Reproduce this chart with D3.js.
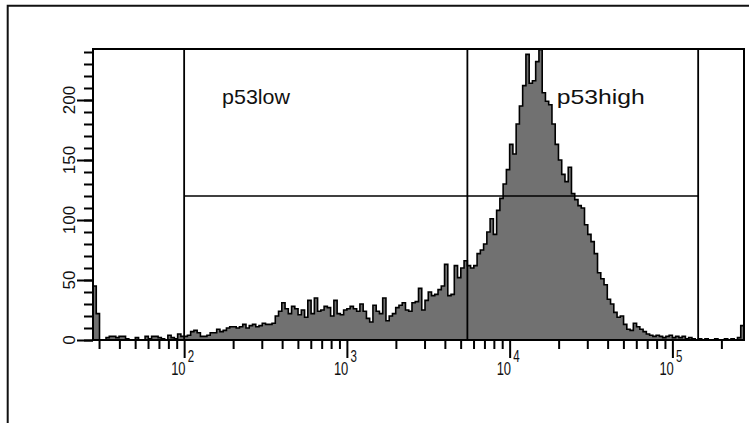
<!DOCTYPE html>
<html>
<head>
<meta charset="utf-8">
<script src="https://cdn.jsdelivr.net/npm/d3@7/dist/d3.min.js"></script>
<style>
  body { margin: 0; background: #fff; }
  svg { display: block; font-family: 'Liberation Sans', Arial, sans-serif; }
</style>
</head>
<body>
<svg id="chart" width="749" height="423"></svg>
<script>
// histogram channels: 200 bins of 0.02 decade, first bin starts at 10^1.44
const binLogStart = 1.44;
const binLogWidth = 0.02;
const counts = [
    45, 22, 0, 0, 2, 3, 3, 2, 3, 3,
    1, 0, 0, 2, 0, 0, 3, 1, 3, 3,
    2, 1, 0, 4, 2, 1, 5, 3, 3, 4,
    7, 8, 6, 3, 3, 4, 6, 6, 9, 7,
    8, 10, 11, 11, 10, 11, 13, 10, 12, 13,
    11, 12, 14, 13, 13, 14, 20, 24, 31, 26,
    22, 28, 26, 21, 25, 19, 33, 22, 35, 24,
    25, 28, 27, 20, 33, 22, 21, 25, 26, 28,
    26, 24, 30, 24, 18, 15, 29, 24, 22, 35,
    16, 20, 22, 27, 29, 31, 25, 24, 31, 32,
    43, 25, 33, 40, 37, 38, 42, 45, 63, 37,
    38, 62, 52, 60, 66, 62, 60, 62, 72, 75,
    80, 90, 101, 88, 108, 118, 130, 142, 163, 155,
    180, 195, 212, 238, 214, 216, 232, 242, 206, 199,
    196, 180, 163, 150, 138, 132, 144, 122, 117, 112,
    110, 96, 88, 82, 72, 56, 51, 46, 34, 30,
    23, 19, 20, 13, 9, 8, 14, 11, 9, 7,
    5, 4, 3, 4, 3, 2, 3, 4, 2, 3,
    2, 3, 1, 2, 1, 0, 1, 0, 1, 0,
    0, 1, 0, 0, 1, 0, 1, 0, 2, 12
];

const yMinorTicks = d3.range(0, 241, 10);
const yLabels = [0, 50, 100, 150, 200];
const xDecades = [100, 1000, 10000, 100000];
const xExponents = ['2', '3', '4', '5'];
const xMinorTicks = [30, 40, 50, 60, 70, 80, 90,
    200, 300, 400, 500, 600, 700, 800, 900,
    2000, 3000, 4000, 5000, 6000, 7000, 8000, 9000,
    20000, 30000, 40000, 50000, 60000, 70000, 80000, 90000,
    200000];

// gates
const gateX = [100, 5500, 144000];
const gateY = 120;
const gateNames = ['p53low', 'p53high'];
const gateLabelX = [171, 19500];
const gateLabelY = 197;

const plot = { left: 93, right: 744, top: 49, bottom: 340 };

const svg = d3.select('#chart');

const x = d3.scaleLog()
    .domain([Math.pow(10, binLogStart), Math.pow(10, binLogStart + counts.length * binLogWidth)])
    .range([plot.left, plot.right]);

const y = d3.scaleLinear()
    .domain([0, 242.5])
    .range([plot.bottom, plot.top]);

// outer frame (left and top only)
svg.append('path')
    .attr('d', 'M7.7,423V5.7H749')
    .attr('fill', 'none')
    .attr('stroke', '#111')
    .attr('stroke-width', 2);

// histogram
const bins = counts.map((c, i) => ({ v: Math.pow(10, binLogStart + i * binLogWidth), c: c }));
bins.push({ v: Math.pow(10, binLogStart + counts.length * binLogWidth), c: counts[counts.length - 1] });

svg.append('path')
    .datum(bins)
    .attr('d', d3.area()
        .curve(d3.curveStepAfter)
        .x(d => x(d.v))
        .y0(y(0))
        .y1(d => y(d.c)))
    .attr('fill', '#717171');

svg.append('path')
    .datum(bins)
    .attr('d', d3.line()
        .curve(d3.curveStepAfter)
        .x(d => x(d.v))
        .y(d => y(d.c)))
    .attr('fill', 'none')
    .attr('stroke', '#000')
    .attr('stroke-width', 1.6);

// gate lines
svg.append('g')
    .selectAll('line.gate')
    .data(gateX)
    .enter()
    .append('line')
        .attr('x1', d => x(d))
        .attr('x2', d => x(d))
        .attr('y1', plot.top)
        .attr('y2', plot.bottom)
        .attr('stroke', '#000')
        .attr('stroke-width', 1.8);

svg.append('line')
    .attr('x1', x(gateX[0]))
    .attr('x2', x(gateX[2]))
    .attr('y1', y(gateY))
    .attr('y2', y(gateY))
    .attr('stroke', '#000')
    .attr('stroke-width', 1.6);

const gateLabelWidth = [68, 88];
svg.append('g')
    .selectAll('text.gate')
    .data(gateNames)
    .enter()
    .append('text')
        .attr('x', (d, i) => x(gateLabelX[i]))
        .attr('y', y(gateLabelY))
        .attr('font-size', 21)
        .attr('textLength', (d, i) => gateLabelWidth[i])
        .attr('lengthAdjust', 'spacingAndGlyphs')
        .attr('fill', '#111')
        .text(d => d);

// plot box: top, right, left axis line, baseline
svg.append('path')
    .attr('d', `M${plot.left},${plot.bottom}V${plot.top}H${plot.right}V${plot.bottom}H${plot.left}`)
    .attr('fill', 'none')
    .attr('stroke', '#000')
    .attr('stroke-width', 2);

// y axis ticks
const yMinor = svg.append('g')
    .attr('transform', `translate(${plot.left},0)`)
    .call(d3.axisLeft(y).tickValues(yMinorTicks).tickSize(9).tickFormat(''));
const yMajor = svg.append('g')
    .attr('transform', `translate(${plot.left},0)`)
    .call(d3.axisLeft(y).tickValues(yLabels).tickSize(16).tickFormat(''));

// x axis ticks
const xMinor = svg.append('g')
    .attr('transform', `translate(0,${plot.bottom})`)
    .call(d3.axisBottom(x).tickValues(xMinorTicks).tickSize(9).tickFormat(''));
const xMajor = svg.append('g')
    .attr('transform', `translate(0,${plot.bottom})`)
    .call(d3.axisBottom(x).tickValues(xDecades).tickSize(18).tickFormat(''));

[yMinor, yMajor, xMinor, xMajor].forEach(g => {
    g.select('.domain').remove();
    g.selectAll('.tick line').attr('stroke', '#000').attr('stroke-width', 2);
});

// y labels, rotated
svg.append('g')
    .selectAll('text.ylab')
    .data(yLabels)
    .enter()
    .append('text')
        .attr('transform', d => `translate(75,${y(d)}) rotate(-90)`)
        .attr('text-anchor', 'middle')
        .attr('font-size', 17)
        .attr('fill', '#111')
        .text(d => d);

// x labels: 10 with exponent, squeezed horizontally like the original bitmap font
const xl = svg.append('g')
    .selectAll('text.xlab')
    .data(xDecades)
    .enter()
    .append('text')
        .attr('transform', d => `translate(${x(d) - 13},375) scale(0.72,1)`)
        .attr('font-size', 18)
        .attr('fill', '#111');

xl.append('tspan')
    .text('10');

xl.append('tspan')
    .attr('dx', 3)
    .attr('dy', -13)
    .attr('font-size', 16)
    .text((d, i) => xExponents[i]);
</script>
</body>
</html>
